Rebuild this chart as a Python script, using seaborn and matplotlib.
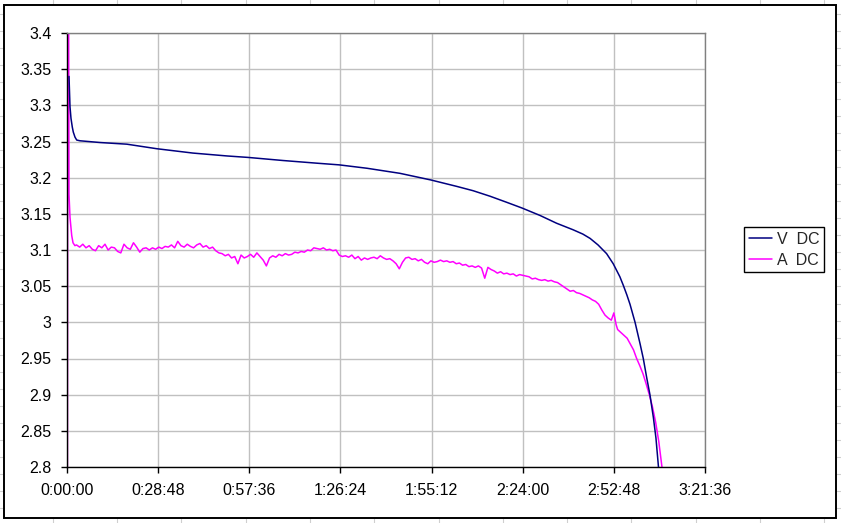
import matplotlib
matplotlib.use("Agg")
import matplotlib.pyplot as plt
import seaborn as sns
from matplotlib.lines import Line2D
from matplotlib.patches import Rectangle

# ---------------- data (time in minutes) ----------------
v_time = [0.63, 0.95, 1.26, 1.67, 1.99, 2.53, 3.07, 4.1, 10.4, 18.9, 28.4, 39.8,
          50.6, 57.2, 68.3, 79.0, 86.0, 94.8, 105.2, 115.0, 123.1, 128.3, 133.7,
          138.9, 143.8, 149.5, 154.7, 159.9, 163.0, 165.3, 167.8, 170.5, 172.6,
          174.7, 175.8, 176.9, 177.9, 179.5, 181.1, 182.1, 183.2, 184.2, 185.3,
          186.1, 186.9, 187.7]
v_dc = [3.340, 3.298, 3.282, 3.270, 3.263, 3.256, 3.252, 3.251, 3.2486, 3.2463,
        3.240, 3.234, 3.230, 3.228, 3.2237, 3.2200, 3.2177, 3.2130, 3.2060,
        3.1968, 3.188, 3.182, 3.1743, 3.166, 3.158, 3.1477, 3.137, 3.128, 3.122,
        3.116, 3.107, 3.095, 3.081, 3.063, 3.051, 3.038, 3.025, 3.000, 2.970,
        2.950, 2.923, 2.900, 2.868, 2.840, 2.800, 2.760]

a_time = [0.0, 0.3, 0.63, 0.95, 1.49, 1.9, 2.5,
          3, 4, 5, 6, 7, 8, 9, 10, 11, 12, 13, 14, 15, 16, 17, 18, 19, 20, 21, 22,
          23, 24, 25, 26, 27, 28, 29, 30, 31, 32, 33, 34, 35, 36, 37, 38, 39, 40,
          41, 42, 43, 44, 45, 46, 47, 48, 49, 50, 51, 52, 53, 54, 55, 56, 57, 58,
          59, 60, 61, 62, 63, 64, 65, 66, 67, 68, 69, 70, 71, 72, 73, 74, 75, 76,
          77, 78, 79, 80, 81, 82, 83, 84, 85, 86, 87, 88, 89, 90, 91, 92, 93, 94,
          95, 96, 97, 98, 99, 100, 101, 102, 103, 104, 105, 106, 107, 108, 109,
          110, 111, 112, 113, 114, 115, 116, 117, 118, 119, 120, 121, 122, 123,
          124, 125, 126, 127, 128, 129, 130, 131, 132, 133, 134, 135, 136, 137,
          138, 139, 140, 141, 142, 143, 144, 145, 146, 147, 148, 149, 150, 151,
          152, 153, 154, 155, 156, 157, 158, 159, 160, 161, 162, 163, 164, 165,
          166, 167, 168, 169,
          170, 171, 172, 172.8, 173.5, 174, 175, 176, 177, 178, 179, 180, 181,
          182, 183, 184, 185, 186, 187, 188, 189]
a_dc = [2.0, 3.9, 3.177, 3.145, 3.120, 3.110, 3.106,
        3.107, 3.104, 3.108, 3.103, 3.106, 3.101, 3.099, 3.106, 3.103, 3.108,
        3.100, 3.104, 3.103, 3.098, 3.096, 3.108, 3.103, 3.101, 3.110, 3.104,
        3.097, 3.102, 3.103, 3.100, 3.103, 3.101, 3.104, 3.102, 3.105, 3.104,
        3.107, 3.103, 3.112, 3.106, 3.104, 3.108, 3.105, 3.103, 3.107, 3.109,
        3.104, 3.106, 3.102, 3.104, 3.099, 3.096, 3.095, 3.092, 3.094, 3.089,
        3.091, 3.081, 3.093, 3.089, 3.091, 3.094, 3.090, 3.096, 3.091, 3.086,
        3.078, 3.089, 3.092, 3.090, 3.094, 3.092, 3.095, 3.093, 3.094, 3.097,
        3.096, 3.098, 3.097, 3.100, 3.099, 3.103, 3.102, 3.101, 3.103, 3.100,
        3.101, 3.099, 3.100, 3.093, 3.091, 3.092, 3.090, 3.093, 3.088, 3.091,
        3.086, 3.089, 3.087, 3.089, 3.090, 3.088, 3.092, 3.089, 3.087, 3.088,
        3.085, 3.081, 3.074, 3.083, 3.089, 3.090, 3.087, 3.088, 3.085, 3.087,
        3.083, 3.081, 3.085, 3.083, 3.084, 3.086, 3.084, 3.085, 3.083, 3.084,
        3.081, 3.082, 3.079, 3.080, 3.077, 3.078, 3.076, 3.078, 3.075, 3.061,
        3.076, 3.073, 3.071, 3.068, 3.070, 3.067, 3.068, 3.066, 3.067, 3.064,
        3.066, 3.065, 3.064, 3.063, 3.060, 3.061, 3.059, 3.058, 3.059, 3.057,
        3.058, 3.056, 3.055, 3.052, 3.049, 3.046, 3.043, 3.044, 3.041, 3.040,
        3.038, 3.036, 3.034, 3.031, 3.029, 3.025, 3.017,
        3.010, 3.006, 3.003, 3.013, 2.997, 2.990, 2.986, 2.982, 2.978, 2.970,
        2.962, 2.950, 2.940, 2.929, 2.915, 2.900, 2.883, 2.862, 2.835, 2.800,
        2.770]

x_ticks = [0, 28.8, 57.6, 86.4, 115.2, 144.0, 172.8, 201.6]
x_labels = ["0:00:00", "0:28:48", "0:57:36", "1:26:24", "1:55:12",
            "2:24:00", "2:52:48", "3:21:36"]
y_ticks = [2.8, 2.85, 2.9, 2.95, 3.0, 3.05, 3.1, 3.15, 3.2, 3.25, 3.3, 3.35, 3.4]
y_labels = ["2.8", "2.85", "2.9", "2.95", "3", "3.05", "3.1", "3.15", "3.2",
            "3.25", "3.3", "3.35", "3.4"]

# ---------------- style ----------------
sns.set_style("white")
plt.rcParams["font.family"] = ["Liberation Sans", "DejaVu Sans"]
FS = 11.5
plt.rcParams["font.size"] = FS

W, H = 841, 523
fig = plt.figure(figsize=(W / 100, H / 100), dpi=100)
fig.patch.set_facecolor("white")

# spreadsheet cell grid behind the chart
grid_c = "#cfcfcf"
for k in range(-1, 14):
    x = (52.8 + 64.3 * k) / W
    fig.add_artist(Line2D([x, x], [0, 1], transform=fig.transFigure,
                          color=grid_c, lw=0.8, zorder=-3))
for k in range(-2, 30):
    y = 1 - (30.7 + 17.05 * k) / H
    fig.add_artist(Line2D([0, 1], [y, y], transform=fig.transFigure,
                          color=grid_c, lw=0.8, zorder=-3))

# chart area
fig.add_artist(Rectangle((4 / W, 1 - 518 / H), (836 - 4) / W, (518 - 5) / H,
                         transform=fig.transFigure, facecolor="white",
                         edgecolor="black", lw=1.4, zorder=-2))

ax = fig.add_axes([67 / W, 1 - 467 / H, (705 - 67) / W, (467 - 33) / H])
ax.set_facecolor("white")

sns.lineplot(x=v_time, y=v_dc, ax=ax, color="#000080", lw=1.1,
             sort=False, estimator=None, label="V  DC", zorder=3)
sns.lineplot(x=a_time, y=a_dc, ax=ax, color="#FF00FF", lw=1.1,
             sort=False, estimator=None, label="A  DC", zorder=2)

ax.set_xlim(0, 201.6)
ax.set_ylim(2.8, 3.4)
ax.set_xticks(x_ticks)
ax.set_xticklabels(x_labels)
ax.set_yticks(y_ticks)
ax.set_yticklabels(y_labels)
ax.set_xlabel("")
ax.set_ylabel("")

ax.grid(True, color="#c0c0c0", lw=1.0, zorder=0)
ax.set_axisbelow(True)

for side in ["left", "bottom"]:
    ax.spines[side].set_color("black")
    ax.spines[side].set_linewidth(1.0)
for side in ["top", "right"]:
    ax.spines[side].set_color("#808080")
    ax.spines[side].set_linewidth(1.0)
    ax.spines[side].set_visible(True)

ax.tick_params(axis="both", which="major", direction="out", length=4.5,
               width=1.0, color="black", labelsize=FS, labelcolor="black",
               left=True, bottom=True)
ax.tick_params(axis="y", pad=6.5)
ax.tick_params(axis="x", pad=7)

ax.get_legend().remove()
handles, labels = ax.get_legend_handles_labels()
leg = fig.legend(handles, labels, loc="upper left",
                 bbox_to_anchor=(744 / W, 1 - 227 / H),
                 bbox_transform=fig.transFigure, borderaxespad=0,
                 frameon=True, fancybox=False, shadow=False,
                 handlelength=1.45, handletextpad=0.3, borderpad=0.3,
                 labelspacing=0.37, fontsize=FS)
leg.get_frame().set_edgecolor("black")
leg.get_frame().set_linewidth(1.0)
leg.get_frame().set_facecolor("white")
leg.get_frame().set_alpha(1)

fig.savefig("out.png", dpi=100)
